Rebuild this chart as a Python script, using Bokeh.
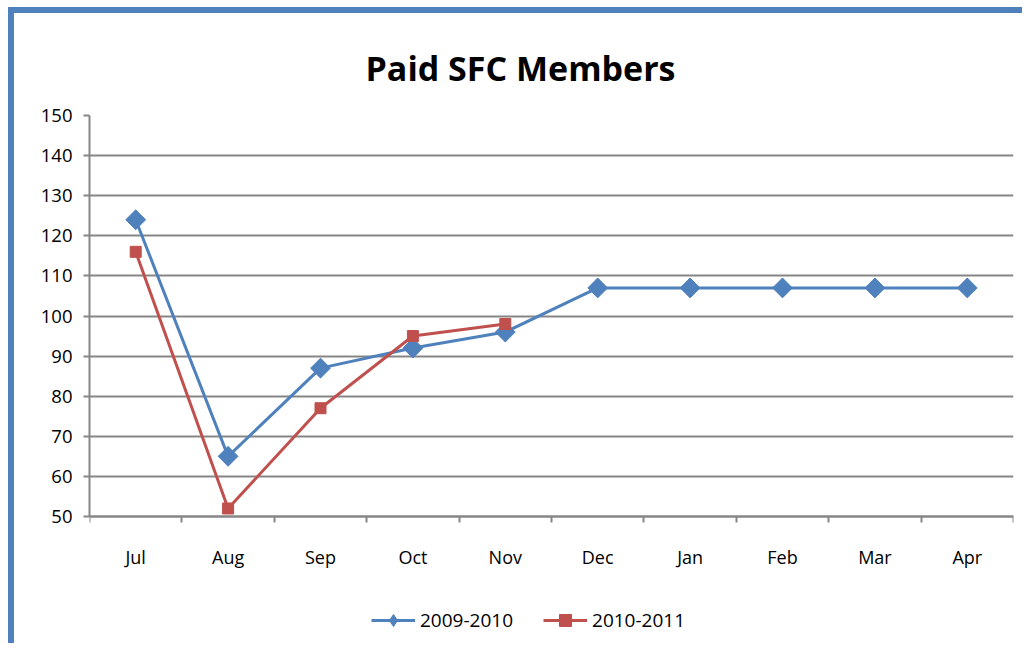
from bokeh.plotting import figure
from bokeh.models import Range1d, FixedTicker, Legend, LegendItem
from bokeh.embed import file_html
from bokeh.resources import INLINE

months = ["Jul", "Aug", "Sep", "Oct", "Nov", "Dec", "Jan", "Feb", "Mar", "Apr"]
s2009 = [124, 65, 87, 92, 96, 107, 107, 107, 107, 107]
s2010 = [116, 52, 77, 95, 98]
y_ticks = [50, 60, 70, 80, 90, 100, 110, 120, 130, 140, 150]

BLUE = "#4F81BD"
RED = "#C0504D"
GRAY = "#868686"
FONT = "Open Sans"

centers = [i + 0.5 for i in range(len(months))]
bounds = [float(i) for i in range(len(months) + 1)]

# layout (pixels): value axis 401 px tall, plus room below for labels + legend
AXIS_PX = 401
BELOW_PX = 133
px_per_unit = AXIS_PX / (y_ticks[-1] - y_ticks[0])
y_lo = y_ticks[0] - BELOW_PX / px_per_unit

p = figure(width=1014, height=636, output_backend="svg", toolbar_location=None,
           x_range=Range1d(0, len(months)), y_range=Range1d(y_lo, y_ticks[-1]),
           min_border_left=75, min_border_right=15, min_border_top=102, min_border_bottom=0,
           styles={"border-left": "6px solid " + BLUE, "border-top": "6px solid " + BLUE,
                   "margin-left": "8px", "margin-top": "7px"})

p.title.text = "Paid SFC Members"
p.title.align = "left"
p.title.offset = 276
p.title.vertical_align = "top"
p.title.text_font = FONT
p.title.text_font_size = "34px"
p.title.text_font_style = "bold"
p.title.text_color = "black"
p.title.standoff = 46

p.outline_line_color = None
p.xgrid.visible = False
p.ygrid.ticker = FixedTicker(ticks=y_ticks)
p.ygrid.grid_line_color = GRAY
p.ygrid.grid_line_width = 2

p.yaxis.ticker = FixedTicker(ticks=y_ticks)
p.yaxis.bounds = (y_ticks[0], y_ticks[-1])
p.yaxis.axis_line_color = GRAY
p.yaxis.axis_line_width = 2
p.yaxis.major_tick_line_color = GRAY
p.yaxis.major_tick_line_width = 2
p.yaxis.major_tick_out = 6
p.yaxis.major_tick_in = 0
p.yaxis.minor_tick_line_color = None
p.yaxis.major_label_text_font = FONT
p.yaxis.major_label_text_font_size = "18.5px"
p.yaxis.major_label_text_color = "black"
p.yaxis.major_label_standoff = 11

p.xaxis.fixed_location = y_ticks[0]
p.xaxis.ticker = FixedTicker(ticks=centers, minor_ticks=bounds)
p.xaxis.major_label_overrides = {c: m for c, m in zip(centers, months)}
p.xaxis.axis_line_color = GRAY
p.xaxis.axis_line_width = 2
p.xaxis.major_tick_line_color = None
p.xaxis.major_tick_out = 0
p.xaxis.major_tick_in = 0
p.xaxis.minor_tick_line_color = GRAY
p.xaxis.minor_tick_line_width = 2
p.xaxis.minor_tick_out = 6
p.xaxis.minor_tick_in = 0
p.xaxis.major_label_text_font = FONT
p.xaxis.major_label_text_font_size = "18px"
p.xaxis.major_label_text_color = "black"
p.xaxis.major_label_standoff = 22

x1 = centers[:len(s2009)]
x2 = centers[:len(s2010)]
l1 = p.line(x1, s2009, line_color=BLUE, line_width=3)
# diamond (used for the legend), fully covered by the wider rotated square on top
k1 = p.scatter(x1, s2009, marker="diamond", size=19, fill_color=BLUE, line_color=BLUE)
m1 = p.scatter(x1, s2009, marker="square", angle=0.7853981634, size=14,
               fill_color=BLUE, line_color=BLUE)
l2 = p.line(x2, s2010, line_color=RED, line_width=3)
m2 = p.scatter(x2, s2010, marker="square", size=11, fill_color=RED, line_color=RED)

legend = Legend(items=[LegendItem(label="2009-2010", renderers=[l1, k1]),
                       LegendItem(label="2010-2011", renderers=[l2, m2])],
                orientation="horizontal", location=(282, 14),
                glyph_width=44, glyph_height=30, label_standoff=5, spacing=30,
                padding=0, margin=0, border_line_color=None, background_fill_alpha=0,
                label_text_font=FONT, label_text_font_size="19px", label_text_color="black")
p.add_layout(legend, "center")

open("out.html", "w").write(file_html(p, INLINE))
